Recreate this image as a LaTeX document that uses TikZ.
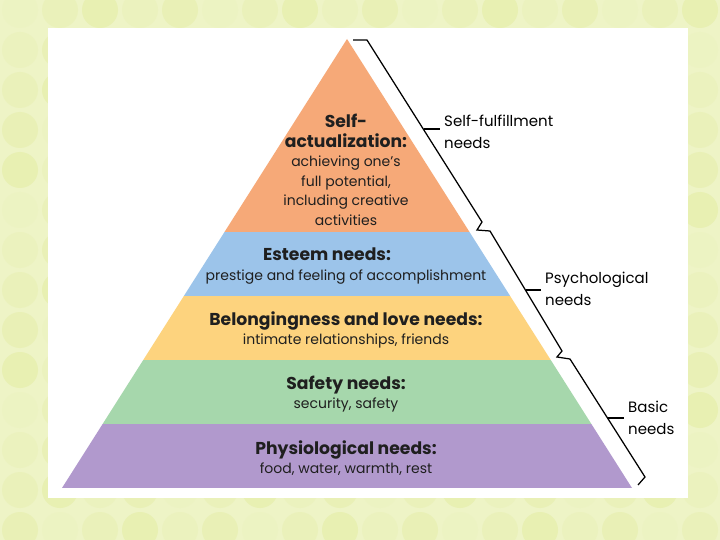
\documentclass[tikz,border=0pt]{standalone}
\usepackage{fontspec}
\setmainfont{Poppins}
\usetikzlibrary{positioning}

\definecolor{bgyellow}{RGB}{238,244,198}
\definecolor{dotyellow}{RGB}{232,240,178}
\definecolor{selfcol}{RGB}{246,169,120}
\definecolor{esteemcol}{RGB}{156,196,234}
\definecolor{lovecol}{RGB}{253,211,126}
\definecolor{safecol}{RGB}{166,215,172}
\definecolor{physcol}{RGB}{177,153,205}

\newcommand{\hd}[1]{{\fontsize{17.2}{19.5}\selectfont\bfseries #1}}
\tikzset{
  layertext/.style={align=center, inner sep=0pt, text=black!88,
    font=\fontsize{14}{19.5}\selectfont},
  sidelabel/.style={align=left, anchor=west, inner xsep=4pt, inner ysep=1pt,
    font=\fontsize{15}{22}\selectfont},
  bracket/.style={line width=1.25pt, line join=miter},
}

\begin{document}
\begin{tikzpicture}[x=1pt,y=-1pt]
\useasboundingbox (0,0) rectangle (720,540);
% background with dots%
\fill[bgyellow] (0,0) rectangle (720,540);
\begin{scope}
\clip (0,0) rectangle (720,540);
\foreach \i in {0,...,17} \foreach \j in {0,...,13} {
  \pgfmathsetmacro\op{0.2+0.8*mod(\i*7+\j*11,5)/4}
  \fill[dotyellow, opacity=\op] (20+40*\i,10+40*\j) circle (18);
}
\end{scope}
\fill[white] (48,28) rectangle (688,498);

\coordinate (apex) at (347,39);
\coordinate (bl) at (62,488);
\coordinate (br) at (632,488);

% the five layers%
\begin{scope}
\clip (apex) -- (bl) -- (br) -- cycle;
\fill[selfcol]   (60,30)  rectangle (640,232);
\fill[esteemcol] (60,232) rectangle (640,296);
\fill[lovecol]   (60,296) rectangle (640,360);
\fill[safecol]   (60,360) rectangle (640,424);
\fill[physcol]   (60,424) rectangle (640,488);
\end{scope}

\node[layertext] (self) at (346,170) {\hd{Self-}\\\hd{actualization:}\\achieving one’s\\full potential,\\including creative\\activities};
\node[layertext] (esteem) at (346,266) {\hd{Esteem needs:}\hspace*{38pt}\\prestige and feeling of accomplishment};
\node[layertext] (love) at (346,330) {\hd{Belongingness and love needs:}\\intimate relationships, friends};
\node[layertext] (safety) at (346,394) {\hd{Safety needs:}\\security, safety};
\node[layertext] (physio) at (346,458) {\hd{Physiological needs:}\\food, water, warmth, rest};

% brackets on the right%
\coordinate (b0) at (353,40);
\coordinate (b1) at (367,40);
\coordinate (b2) at (482,222);
\coordinate (b3) at (477,230);
\coordinate (b4) at (490,231);
\coordinate (b5) at (562,351);
\coordinate (b6) at (557,357);
\coordinate (b7) at (570,359);
\coordinate (b8) at (645,477);
\coordinate (b9) at (638,485);
\draw[bracket] (b0) -- (b1) -- (b2) -- (b3) -- (b4) -- (b5) -- (b6) -- (b7) -- (b8) -- (b9);

\coordinate (k1) at (423.5,129);
\coordinate (k2) at (525.5,290);
\coordinate (k3) at (607.5,418);
\node[sidelabel] (selfful) at (440,132) {Self-fulfillment\\needs};
\node[sidelabel] (psych) at (541,289) {Psychological\\needs};
\node[sidelabel] (basic) at (624,418) {Basic\\needs};
\draw[bracket] (k1) -- (k1 -| selfful.west);
\draw[bracket] (k2) -- (k2 -| psych.west);
\draw[bracket] (k3) -- (k3 -| basic.west);
\end{tikzpicture}
\end{document}
